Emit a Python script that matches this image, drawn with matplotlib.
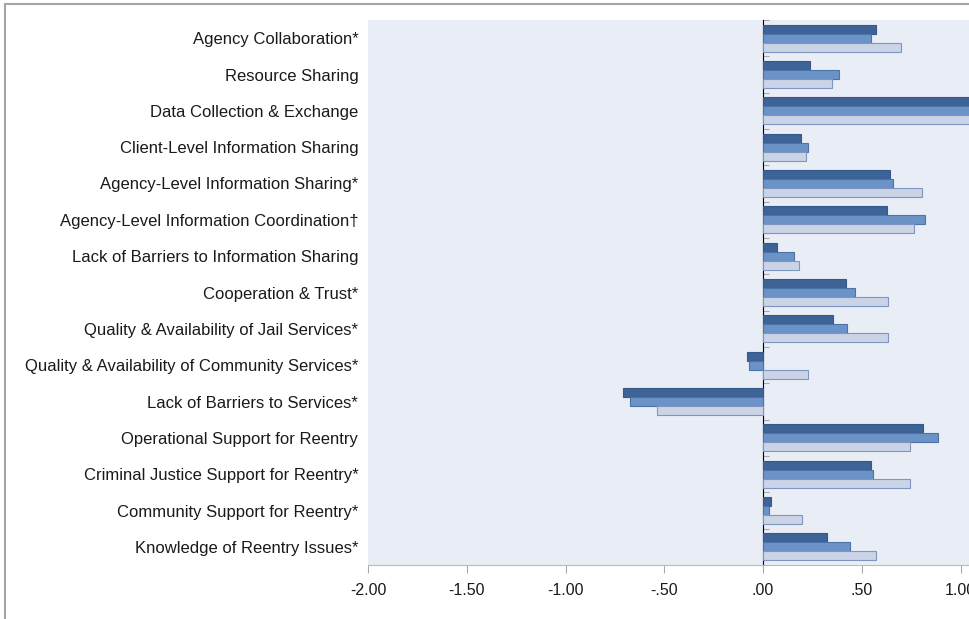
import numpy as np
import matplotlib.pyplot as plt
from matplotlib.patches import Rectangle

plt.rcParams['font.family'] = ['Liberation Sans Narrow', 'Liberation Sans', 'DejaVu Sans']

categories = ['Agency Collaboration*', 'Resource Sharing', 'Data Collection & Exchange',
              'Client-Level Information Sharing', 'Agency-Level Information Sharing*',
              'Agency-Level Information Coordination\u2020', 'Lack of Barriers to Information Sharing',
              'Cooperation & Trust*', 'Quality & Availability of Jail Services*',
              'Quality & Availability of Community Services*', 'Lack of Barriers to Services*',
              'Operational Support for Reentry', 'Criminal Justice Support for Reentry*',
              'Community Support for Reentry*', 'Knowledge of Reentry Issues*']

series_dark = [0.57, 0.24, 1.25, 0.19, 0.645, 0.63, 0.072, 0.42, 0.356, -0.083, -0.71,
               0.81, 0.545, 0.039, 0.326]
series_mid = [0.548, 0.386, 1.22, 0.226, 0.657, 0.819, 0.159, 0.466, 0.424, -0.069, -0.673,
              0.888, 0.559, 0.030, 0.441]
series_light = [0.70, 0.348, 1.20, 0.216, 0.805, 0.766, 0.181, 0.635, 0.635, 0.226, -0.538,
                0.746, 0.746, 0.196, 0.574]

xticks = [-2.0, -1.5, -1.0, -0.5, 0.0, 0.5, 1.0]
xticklabels = ['-2.00', '-1.50', '-1.00', '-.50', '.00', '.50', '1.00']

fig = plt.figure(figsize=(9.70, 6.19), dpi=100)
ax = fig.add_axes([368/970, 1-565/619, 1-368/970, (565-20)/619])
ax.set_facecolor('#E9EDF5')

y = np.arange(len(categories))
h = 0.25
ax.barh(y - h, series_dark, height=h, color='#3E6497', edgecolor='#35598A', lw=0.8)
ax.barh(y, series_mid, height=h, color='#6C93C8', edgecolor='#4C73A8', lw=0.8)
ax.barh(y + h, series_light, height=h, color='#CBD4E7', edgecolor='#7E96BF', lw=0.8)

ax.set_xlim(-2.0, 1.048)
ax.set_ylim(len(categories) - 0.5, -0.5)
ax.set_yticks(y)
ax.set_yticklabels(categories, fontsize=12, color='#1a1a1a')
ax.tick_params(axis='y', length=0, pad=7)
ax.set_xticks(xticks)
ax.set_xticklabels(xticklabels, fontsize=11.5, color='#1a1a1a')
ax.tick_params(axis='x', length=6, color='#A8A8A8', pad=7)

for s in ['top', 'right', 'left']:
    ax.spines[s].set_visible(False)
ax.spines['bottom'].set_color('#BBBBBB')

# zero line with category-boundary ticks
zpos = (0 - (-2.0)) / (1.048 + 2.0)
sec = ax.secondary_yaxis(zpos)
sec.spines['left'].set_color('#A8A8A8')
sec.spines['left'].set_linewidth(1.2)
sec.set_yticks(np.arange(len(categories) + 1) - 0.5)
sec.set_yticklabels([])
sec.tick_params(length=4, color='#A8A8A8')

fig.add_artist(Rectangle((5/970, -0.02), 1.0, 1 - 4/619 + 0.02, transform=fig.transFigure,
                         fill=False, edgecolor='#A5A5A5', lw=1.5))

fig.savefig('out.png', dpi=100)
